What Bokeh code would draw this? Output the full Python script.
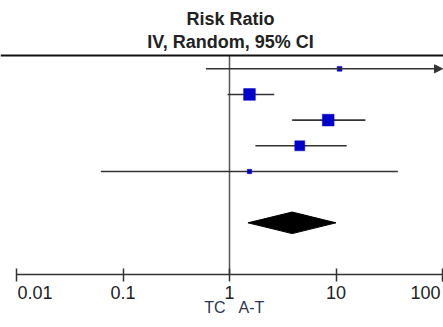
import math
from bokeh.plotting import figure
from bokeh.models import Range1d, LogAxis, FixedTicker, Span, Arrow, NormalHead
from bokeh.core.properties import value
from bokeh.embed import file_html
from bokeh.resources import INLINE

# ---------------- data ----------------
study_rr = [10.8, 1.54, 8.45, 4.57, 1.54]
study_lo = [0.60, 0.96, 3.88, 1.75, 0.062]
study_hi = [250.0, 2.63, 18.9, 12.6, 38.1]
study_weight = [5.5, 33.0, 33.0, 24.0, 4.5]
pooled_rr = [3.88]
pooled_lo = [1.49]
pooled_hi = [10.0]
tick_values = [0.01, 0.1, 1, 10, 100]
tick_labels = ["0.01", "0.1", "1", "10", "100"]
null_value = 1
scale_title = "Risk Ratio"
method_title = "IV, Random, 95% CI"
favours_left = "TC"
favours_right = "A-T"

# ---------------- layout / style ----------------
W, H = 443, 327
ROW0_PX, ROW_PX = 68.3, 25.67       # first row centre, row pitch (px)
X1_PX, DEC_PX = 229.0, 106.5        # position of RR=1, px per decade
FONT = value("Liberation Sans")
TXT = "#222222"
LINE = "#333333"
BLUE = "#0000CC"

def row_of(px):
    return (px - ROW0_PX) / ROW_PX

x_range = Range1d(10 ** (-X1_PX / DEC_PX), 10 ** ((W - X1_PX) / DEC_PX))
y_range = Range1d(row_of(H), row_of(0))

p = figure(width=W, height=H, x_axis_type="log", x_range=x_range, y_range=y_range,
           output_backend="svg", toolbar_location=None, min_border=0,
           x_axis_location=None, y_axis_location=None, outline_line_color=None)
p.grid.grid_line_color = None
p.background_fill_color = "white"
p.border_fill_color = "white"
p.styles = {"position": "absolute", "left": "0px", "top": "0px"}

rows = list(range(len(study_rr)))
pooled_row = len(study_rr) + 1
top_line_row = row_of(55)
axis_row = row_of(274.3)

# header rule
p.add_layout(Span(location=top_line_row, dimension="width", line_color="#111111", line_width=2))

# line of no effect
p.segment(x0=[null_value], x1=[null_value], y0=[top_line_row], y1=[axis_row],
          line_color="#555555", line_width=1.5)

# confidence intervals
xmax = tick_values[-1]
in_x0, in_x1, in_y = [], [], []
for lo, hi, r in zip(study_lo, study_hi, rows):
    if hi > xmax:
        p.add_layout(Arrow(end=NormalHead(size=8, fill_color=LINE, line_color=LINE),
                           x_start=lo, y_start=r, x_end=xmax, y_end=r,
                           line_color=LINE, line_width=1.6))
    else:
        in_x0.append(lo); in_x1.append(hi); in_y.append(r)
p.segment(x0=in_x0, x1=in_x1, y0=in_y, y1=in_y, line_color=LINE, line_width=1.6)

# study squares (area proportional to weight)
sizes = [2.04 * math.sqrt(w) for w in study_weight]
p.scatter(x=study_rr, y=rows, size=sizes, marker="square",
          fill_color=BLUE, line_color=BLUE, line_width=0.5)

# pooled diamond
half_h = 10.8 / ROW_PX
p.patch(x=[pooled_lo[0], pooled_rr[0], pooled_hi[0], pooled_rr[0]],
        y=[pooled_row, pooled_row - half_h, pooled_row, pooled_row + half_h],
        fill_color="black", line_color="black", line_width=1)

# axis
ax = LogAxis(fixed_location=axis_row, ticker=FixedTicker(ticks=tick_values, minor_ticks=[]),
             bounds=(tick_values[0], tick_values[-1]),
             axis_line_color=LINE, axis_line_width=1.5,
             major_tick_line_color=LINE, major_tick_line_width=1.5,
             major_tick_in=6, major_tick_out=7,
             minor_tick_line_color=None,
             major_label_text_font_size="0px")
ax.major_label_overrides = {t: "" for t in tick_values}
p.add_layout(ax, "below")

# tick labels
lab_row = row_of(291.5)
p.text(x=tick_values[:1], y=[lab_row], text=tick_labels[:1], text_align="left",
       text_baseline="alphabetic", text_font=FONT, text_font_size="18px", text_color=TXT, x_offset=1)
p.text(x=tick_values[1:-1], y=[lab_row] * 3, text=tick_labels[1:-1], text_align="center",
       text_baseline="alphabetic", text_font=FONT, text_font_size="18px", text_color=TXT)
p.text(x=tick_values[-1:], y=[lab_row], text=tick_labels[-1:], text_align="right",
       text_baseline="alphabetic", text_font=FONT, text_font_size="18px", text_color=TXT, x_offset=-2)

# titles
p.text(x=[null_value, null_value], y=[row_of(18.0), row_of(41.0)], text=[scale_title, method_title],
       text_align="center", text_baseline="alphabetic", text_font=FONT, text_font_size="18px",
       text_font_style="bold", text_color=TXT, x_offset=1)

# favours labels
fav_row = row_of(307)
p.text(x=[null_value], y=[fav_row], text=[favours_left], text_align="right",
       text_baseline="alphabetic", text_font=FONT, text_font_size="16px", text_color="#2a3550", x_offset=-4)
p.text(x=[null_value], y=[fav_row], text=[favours_right], text_align="left",
       text_baseline="alphabetic", text_font=FONT, text_font_size="16px", text_color="#2a3550", x_offset=9)

open("out.html", "w").write(file_html(p, INLINE))
